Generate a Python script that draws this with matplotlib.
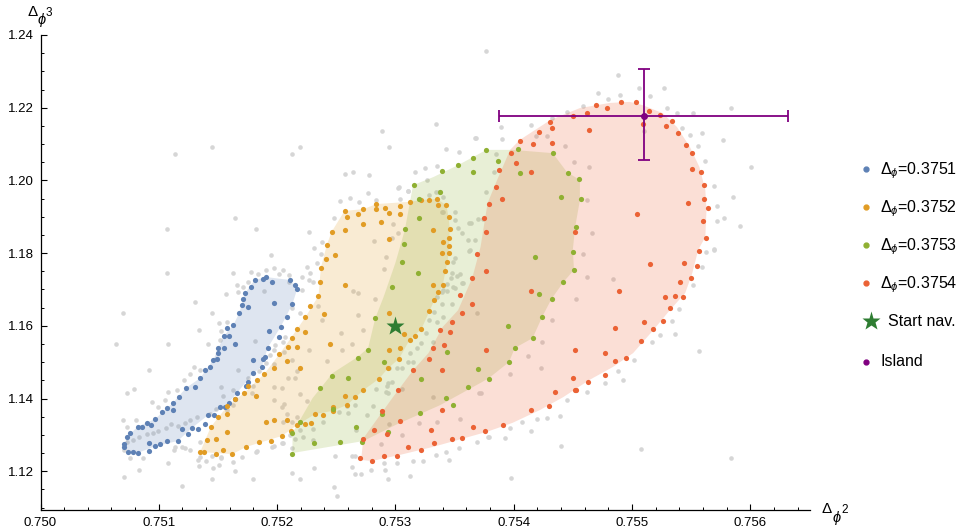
import numpy as np
import matplotlib
matplotlib.use("Agg")
import matplotlib.pyplot as plt
from matplotlib.lines import Line2D
from matplotlib.ticker import FixedLocator, FuncFormatter

plt.rcParams["font.family"] = ["Liberation Sans", "DejaVu Sans"]
plt.rcParams["mathtext.fontset"] = "custom"
plt.rcParams["mathtext.rm"] = "Liberation Sans"
plt.rcParams["mathtext.it"] = "Liberation Sans:italic"

# -----------------------------
# Navigator samples for each Delta_phi
# -----------------------------
blue_pts = [
    (0.75181, 1.1726), (0.75188, 1.1729), (0.75191, 1.1734), (0.75196, 1.1720), (0.75211, 1.1726),
    (0.75215, 1.1712), (0.75217, 1.1701), (0.75213, 1.1660), (0.75208, 1.1624), (0.75203, 1.1597),
    (0.75202, 1.1569), (0.75192, 1.1539), (0.75190, 1.1514), (0.75188, 1.1509), (0.75187, 1.1487),
    (0.75180, 1.1506), (0.75180, 1.1470), (0.75175, 1.1445), (0.75174, 1.1434), (0.75166, 1.1415),
    (0.75164, 1.1399), (0.75159, 1.1388), (0.75156, 1.1377), (0.75152, 1.1377), (0.75147, 1.1355),
    (0.75142, 1.1355), (0.75139, 1.1330), (0.75133, 1.1316), (0.75128, 1.1319), (0.75125, 1.1302),
    (0.75120, 1.1316), (0.75116, 1.1283), (0.75107, 1.1283), (0.75101, 1.1275), (0.75097, 1.1269),
    (0.75092, 1.1278), (0.75092, 1.1256), (0.75082, 1.1250), (0.75078, 1.1253), (0.75074, 1.1253),
    (0.75071, 1.1267), (0.75071, 1.1275), (0.75073, 1.1294), (0.75076, 1.1305), (0.75082, 1.1322),
    (0.75086, 1.1322), (0.75090, 1.1333), (0.75093, 1.1327), (0.75097, 1.1344), (0.75103, 1.1363),
    (0.75107, 1.1374), (0.75112, 1.1388), (0.75112, 1.1368), (0.75117, 1.1404), (0.75123, 1.1429),
    (0.75131, 1.1432), (0.75135, 1.1456), (0.75139, 1.1478), (0.75143, 1.1487), (0.75146, 1.1506),
    (0.75149, 1.1509), (0.75150, 1.1525), (0.75150, 1.1539), (0.75155, 1.1539), (0.75155, 1.1572),
    (0.75159, 1.1572), (0.75158, 1.1594), (0.75163, 1.1602), (0.75164, 1.1550), (0.75168, 1.1635),
    (0.75170, 1.1657), (0.75171, 1.1674), (0.75175, 1.1652), (0.75173, 1.1690), (0.75178, 1.1707),
    (0.75197, 1.1663), (0.75193, 1.1586),
]

orange_pts = [
    (0.75257, 1.1916), (0.75259, 1.1899), (0.75268, 1.1908), (0.75273, 1.1921), (0.75284, 1.1935),
    (0.75284, 1.1921), (0.75291, 1.1924), (0.75295, 1.1910), (0.75304, 1.1930), (0.75304, 1.1908),
    (0.75312, 1.1941), (0.75322, 1.1946), (0.75328, 1.1946), (0.75335, 1.1949), (0.75336, 1.1932),
    (0.75343, 1.1932), (0.75345, 1.1899), (0.75346, 1.1866), (0.75340, 1.1831), (0.75345, 1.1842),
    (0.75345, 1.1820), (0.75345, 1.1800), (0.75339, 1.1800), (0.75344, 1.1776), (0.75342, 1.1751),
    (0.75332, 1.1864), (0.75295, 1.1839), (0.75288, 1.1886), (0.75273, 1.1880), (0.75257, 1.1864),
    (0.75246, 1.1858), (0.75242, 1.1822), (0.75249, 1.1795), (0.75241, 1.1784), (0.75237, 1.1759),
    (0.75236, 1.1721), (0.75235, 1.1682), (0.75228, 1.1654), (0.75224, 1.1624), (0.75224, 1.1583),
    (0.75217, 1.1591), (0.75213, 1.1566), (0.75217, 1.1542), (0.75209, 1.1542), (0.75208, 1.1503),
    (0.75219, 1.1484), (0.75245, 1.1550), (0.75240, 1.1632), (0.75257, 1.1712), (0.75295, 1.1635),
    (0.75295, 1.1533), (0.75304, 1.1539), (0.75307, 1.1577), (0.75312, 1.1561), (0.75317, 1.1572),
    (0.75322, 1.1591), (0.75328, 1.1641), (0.75333, 1.1671), (0.75336, 1.1693), (0.75340, 1.1712),
    (0.75332, 1.1712), (0.75303, 1.1509), (0.75294, 1.1484), (0.75286, 1.1454), (0.75273, 1.1423),
    (0.75257, 1.1407), (0.75266, 1.1404), (0.75259, 1.1382), (0.75247, 1.1377), (0.75247, 1.1366),
    (0.75239, 1.1355), (0.75232, 1.1357), (0.75229, 1.1333), (0.75224, 1.1330), (0.75217, 1.1327),
    (0.75212, 1.1311), (0.75208, 1.1341), (0.75204, 1.1297), (0.75197, 1.1341), (0.75202, 1.1522),
    (0.75197, 1.1484), (0.75189, 1.1467), (0.75183, 1.1451), (0.75182, 1.1407), (0.75175, 1.1434),
    (0.75172, 1.1415), (0.75164, 1.1399), (0.75158, 1.1379), (0.75150, 1.1349), (0.75158, 1.1357),
    (0.75144, 1.1322), (0.75158, 1.1308), (0.75148, 1.1289), (0.75141, 1.1286), (0.75135, 1.1253),
    (0.75138, 1.1253), (0.75148, 1.1247), (0.75154, 1.1258), (0.75162, 1.1247), (0.75174, 1.1267),
    (0.75185, 1.1280), (0.75195, 1.1283), (0.75191, 1.1335),
]

green_pts = [
    (0.75316, 1.1987), (0.75338, 1.1968), (0.75320, 1.1949), (0.75320, 1.1897), (0.75308, 1.1866),
    (0.75307, 1.1825), (0.75306, 1.1776), (0.75319, 1.1745), (0.75297, 1.1707), (0.75283, 1.1621),
    (0.75277, 1.1533), (0.75268, 1.1511), (0.75246, 1.1462), (0.75260, 1.1456), (0.75236, 1.1429),
    (0.75290, 1.1500), (0.75322, 1.1454), (0.75344, 1.1528), (0.75339, 1.2026), (0.75353, 1.2042),
    (0.75366, 1.2062), (0.75366, 1.2023), (0.75377, 1.2084), (0.75387, 1.2053), (0.75404, 1.2086),
    (0.75405, 1.2020), (0.75433, 1.2075), (0.75446, 1.2020), (0.75455, 1.2004), (0.75440, 1.1954),
    (0.75457, 1.1949), (0.75453, 1.1872), (0.75450, 1.1803), (0.75451, 1.1754), (0.75418, 1.1789),
    (0.75442, 1.1720), (0.75421, 1.1687), (0.75432, 1.1674), (0.75424, 1.1624), (0.75395, 1.1599),
    (0.75416, 1.1566), (0.75401, 1.1539), (0.75396, 1.1500), (0.75379, 1.1454), (0.75370, 1.1481),
    (0.75361, 1.1432), (0.75343, 1.1401), (0.75247, 1.1371), (0.75213, 1.1305), (0.75219, 1.1335),
    (0.75213, 1.1247), (0.75231, 1.1278), (0.75253, 1.1280), (0.75267, 1.1322), (0.75272, 1.1280),
    (0.75289, 1.1357), (0.75294, 1.1308), (0.75321, 1.1360), (0.75349, 1.1382),
]

red_pts = [
    (0.75405, 1.2108), (0.75421, 1.2133), (0.75431, 1.2161), (0.75432, 1.2144), (0.75450, 1.2177),
    (0.75462, 1.2185), (0.75470, 1.2207), (0.75479, 1.2199), (0.75491, 1.2216), (0.75503, 1.2216),
    (0.75514, 1.2191), (0.75524, 1.2180), (0.75534, 1.2163), (0.75529, 1.2150), (0.75539, 1.2130),
    (0.75546, 1.2097), (0.75551, 1.2075), (0.75551, 1.2031), (0.75558, 1.2023), (0.75561, 1.1987),
    (0.75561, 1.1949), (0.75564, 1.1924), (0.75560, 1.1888), (0.75563, 1.1842), (0.75557, 1.1806),
    (0.75555, 1.1765), (0.75550, 1.1732), (0.75541, 1.1720), (0.75544, 1.1773), (0.75543, 1.1679),
    (0.75536, 1.1682), (0.75528, 1.1679), (0.75532, 1.1649), (0.75526, 1.1613), (0.75518, 1.1591),
    (0.75508, 1.1558), (0.75495, 1.1511), (0.75486, 1.1503), (0.75477, 1.1465), (0.75463, 1.1445),
    (0.75453, 1.1423), (0.75435, 1.1418), (0.75430, 1.1379), (0.75415, 1.1368), (0.75391, 1.1327),
    (0.75376, 1.1311), (0.75366, 1.1322), (0.75356, 1.1291), (0.75348, 1.1289), (0.75333, 1.1278),
    (0.75322, 1.1258), (0.75311, 1.1267), (0.75301, 1.1242), (0.75290, 1.1242), (0.75280, 1.1228),
    (0.75270, 1.1236), (0.75273, 1.1289), (0.75282, 1.1313), (0.75293, 1.1302), (0.75289, 1.1366),
    (0.75302, 1.1423), (0.75304, 1.1338), (0.75330, 1.1313), (0.75339, 1.1368), (0.75315, 1.1478),
    (0.75328, 1.1509), (0.75339, 1.1478), (0.75332, 1.1539), (0.75341, 1.1547), (0.75338, 1.1588),
    (0.75346, 1.1583), (0.75348, 1.1610), (0.75356, 1.1635), (0.75355, 1.1685), (0.75365, 1.1660),
    (0.75365, 1.1732), (0.75369, 1.1798), (0.75377, 1.1751), (0.75377, 1.1858), (0.75375, 1.1897),
    (0.75379, 1.1935), (0.75385, 1.1982), (0.75390, 1.1949), (0.75388, 1.2029), (0.75402, 1.2048),
    (0.75398, 1.2075), (0.75415, 1.2023), (0.75416, 1.2100), (0.75432, 1.2103), (0.75464, 1.2139),
    (0.75509, 1.2155), (0.75547, 1.1938), (0.75504, 1.1908), (0.75452, 1.1858), (0.75515, 1.1770),
    (0.75489, 1.1696), (0.75510, 1.1610), (0.75486, 1.1594), (0.75477, 1.1525), (0.75452, 1.1533),
    (0.75450, 1.1456), (0.75452, 1.1423), (0.75415, 1.1696), (0.75377, 1.1533),
]

# outlines of the allowed regions (concave hulls)
blue_hull = [
    (0.75071, 1.1267), (0.75073, 1.1294), (0.75082, 1.1322), (0.75097, 1.1344), (0.75112, 1.1388),
    (0.75123, 1.1429), (0.75135, 1.1456), (0.75146, 1.1506), (0.75155, 1.1572), (0.75163, 1.1602),
    (0.75168, 1.1635), (0.75173, 1.1690), (0.75181, 1.1726), (0.75191, 1.1734), (0.75211, 1.1726),
    (0.75217, 1.1701), (0.75213, 1.1660), (0.75203, 1.1597), (0.75192, 1.1539), (0.75187, 1.1487),
    (0.75180, 1.1470), (0.75166, 1.1415), (0.75156, 1.1377), (0.75142, 1.1355), (0.75128, 1.1319),
    (0.75116, 1.1283), (0.75097, 1.1269), (0.75082, 1.1250), (0.75074, 1.1253),
]

orange_hull = [
    (0.75257, 1.1916), (0.75273, 1.1921), (0.75284, 1.1935), (0.75312, 1.1941), (0.75322, 1.1946),
    (0.75335, 1.1949), (0.75343, 1.1932), (0.75345, 1.1899), (0.75346, 1.1866), (0.75345, 1.1800),
    (0.75344, 1.1776), (0.75340, 1.1712), (0.75333, 1.1671), (0.75322, 1.1591), (0.75312, 1.1561),
    (0.75303, 1.1509), (0.75294, 1.1484), (0.75286, 1.1454), (0.75273, 1.1423), (0.75259, 1.1382),
    (0.75247, 1.1366), (0.75232, 1.1357), (0.75217, 1.1327), (0.75204, 1.1297), (0.75174, 1.1267),
    (0.75162, 1.1247), (0.75135, 1.1253), (0.75144, 1.1322), (0.75158, 1.1379), (0.75172, 1.1415),
    (0.75189, 1.1467), (0.75202, 1.1522), (0.75217, 1.1591), (0.75224, 1.1624), (0.75235, 1.1682),
    (0.75237, 1.1759), (0.75242, 1.1822), (0.75246, 1.1858),
]

green_hull = [
    (0.75213, 1.1250), (0.75213, 1.1305), (0.75230, 1.1401), (0.75247, 1.1470), (0.75268, 1.1514),
    (0.75277, 1.1539), (0.75283, 1.1621), (0.75290, 1.1679), (0.75300, 1.1773), (0.75308, 1.1864),
    (0.75315, 1.1987), (0.75332, 1.2009), (0.75353, 1.2042), (0.75377, 1.2084), (0.75399, 1.2084),
    (0.75433, 1.2075), (0.75445, 1.2023), (0.75456, 1.2001), (0.75456, 1.1946), (0.75452, 1.1872),
    (0.75450, 1.1809), (0.75451, 1.1754), (0.75442, 1.1720), (0.75432, 1.1674), (0.75424, 1.1624),
    (0.75416, 1.1566), (0.75401, 1.1539), (0.75396, 1.1500), (0.75379, 1.1456), (0.75372, 1.1443),
    (0.75338, 1.1382), (0.75300, 1.1327), (0.75273, 1.1283),
]

red_hull = [
    (0.75271, 1.1231), (0.75273, 1.1291), (0.75298, 1.1404), (0.75315, 1.1478), (0.75328, 1.1525),
    (0.75340, 1.1597), (0.75353, 1.1643), (0.75365, 1.1732), (0.75372, 1.1817), (0.75376, 1.1899),
    (0.75378, 1.1938), (0.75386, 1.2001), (0.75397, 1.2084), (0.75405, 1.2111), (0.75431, 1.2166),
    (0.75456, 1.2199), (0.75481, 1.2213), (0.75498, 1.2216), (0.75509, 1.2207), (0.75526, 1.2185),
    (0.75538, 1.2147), (0.75549, 1.2092), (0.75557, 1.2037), (0.75562, 1.1974), (0.75563, 1.1919),
    (0.75562, 1.1844), (0.75556, 1.1809), (0.75551, 1.1745), (0.75545, 1.1690), (0.75532, 1.1643),
    (0.75518, 1.1588), (0.75501, 1.1525), (0.75484, 1.1487), (0.75464, 1.1451), (0.75442, 1.1404),
    (0.75422, 1.1368), (0.75399, 1.1333), (0.75377, 1.1308), (0.75332, 1.1267), (0.75304, 1.1245),
    (0.75280, 1.1228),
]

# rejected / excluded samples
gray_pts = [
    (0.75114, 1.2073), (0.75145, 1.2092), (0.75213, 1.2073), (0.75219, 1.2092), (0.75107, 1.1866),
    (0.75107, 1.1745), (0.75164, 1.1897), (0.75182, 1.1866), (0.75195, 1.1795), (0.75289, 1.2136),
    (0.75295, 1.2092), (0.75334, 1.2155), (0.75343, 1.2086), (0.75354, 1.2078), (0.75367, 1.2117),
    (0.75070, 1.1635), (0.75064, 1.1550), (0.75092, 1.1478), (0.75134, 1.1588), (0.75131, 1.1666),
    (0.75145, 1.1635), (0.75108, 1.1550), (0.75142, 1.1550), (0.75377, 1.2356), (0.75488, 1.2290),
    (0.75584, 1.2199), (0.75601, 1.2037), (0.75591, 1.1875), (0.75557, 1.1531), (0.75584, 1.1236),
    (0.75398, 1.1181), (0.75508, 1.1261), (0.75440, 1.1269),
    (0.75257, 1.2018), (0.75264, 1.2023), (0.75278, 1.2015), (0.75253, 1.1943), (0.75262, 1.1952),
    (0.75269, 1.1941), (0.75277, 1.1965), (0.75284, 1.1946), (0.75302, 1.1979), (0.75311, 1.1971),
    (0.75317, 1.2023), (0.75325, 1.2034), (0.75327, 1.2001), (0.75248, 1.1897), (0.75304, 1.1949),
    (0.75227, 1.1858), (0.75231, 1.1814), (0.75238, 1.1831), (0.75237, 1.1798), (0.75234, 1.1773),
    (0.75225, 1.1762), (0.75228, 1.1745), (0.75230, 1.1720), (0.75221, 1.1699), (0.75221, 1.1734),
    (0.75210, 1.1740), (0.75210, 1.1720), (0.75202, 1.1742), (0.75197, 1.1759), (0.75205, 1.1754),
    (0.75191, 1.1754), (0.75184, 1.1742), (0.75178, 1.1748), (0.75171, 1.1707), (0.75166, 1.1712),
    (0.75163, 1.1745), (0.75157, 1.1687), (0.75167, 1.1693), (0.75175, 1.1720), (0.75189, 1.1696),
    (0.75298, 1.1880), (0.75297, 1.1842), (0.75292, 1.1789), (0.75302, 1.1855), (0.75282, 1.1833),
    (0.75290, 1.1756), (0.75264, 1.1696), (0.75268, 1.1690), (0.75283, 1.1674), (0.75335, 1.2040),
    (0.75337, 1.1968), (0.75340, 1.1913), (0.75350, 1.1891), (0.75356, 1.1855), (0.75353, 1.1869),
    (0.75363, 1.1809), (0.75362, 1.1883), (0.75361, 1.1836), (0.75349, 1.1776), (0.75352, 1.1737),
    (0.75348, 1.1745), (0.75356, 1.1718), (0.75350, 1.1704), (0.75339, 1.1693), (0.75344, 1.1696),
    (0.75370, 1.1894), (0.75368, 1.2117), (0.75268, 1.1630), (0.75273, 1.1588), (0.75254, 1.1580),
    (0.75263, 1.1550), (0.75255, 1.1533), (0.75242, 1.1503), (0.75227, 1.1533), (0.75235, 1.1654),
    (0.75238, 1.1616), (0.75219, 1.1635), (0.75227, 1.1726),
    (0.75079, 1.1426), (0.75073, 1.1415), (0.75094, 1.1390), (0.75099, 1.1377), (0.75105, 1.1396),
    (0.75108, 1.1418), (0.75115, 1.1423), (0.75121, 1.1451), (0.75126, 1.1467), (0.75130, 1.1487),
    (0.75135, 1.1478), (0.75151, 1.1608), (0.75158, 1.1610), (0.75153, 1.1586), (0.75152, 1.1561),
    (0.75181, 1.1558), (0.75167, 1.1478), (0.75153, 1.1432), (0.75163, 1.1423), (0.75154, 1.1407),
    (0.75163, 1.1382), (0.75158, 1.1368), (0.75148, 1.1371), (0.75143, 1.1357), (0.75132, 1.1349),
    (0.75126, 1.1341), (0.75122, 1.1333), (0.75116, 1.1324), (0.75110, 1.1330), (0.75106, 1.1319),
    (0.75099, 1.1311), (0.75095, 1.1305), (0.75090, 1.1302), (0.75083, 1.1294), (0.75078, 1.1286),
    (0.75073, 1.1280), (0.75071, 1.1258), (0.75070, 1.1341), (0.75081, 1.1341), (0.75076, 1.1236),
    (0.75087, 1.1236), (0.75073, 1.1322),
    (0.75207, 1.1569), (0.75205, 1.1555), (0.75198, 1.1547), (0.75197, 1.1533), (0.75194, 1.1520),
    (0.75191, 1.1498), (0.75197, 1.1495), (0.75185, 1.1476), (0.75180, 1.1470), (0.75175, 1.1456),
    (0.75180, 1.1434), (0.75179, 1.1415), (0.75197, 1.1396), (0.75204, 1.1429), (0.75209, 1.1456),
    (0.75215, 1.1456), (0.75217, 1.1476), (0.75213, 1.1506), (0.75213, 1.1649), (0.75206, 1.1528),
    (0.75197, 1.1432), (0.75204, 1.1377), (0.75205, 1.1335), (0.75208, 1.1357), (0.75213, 1.1335),
    (0.75217, 1.1349), (0.75219, 1.1335), (0.75211, 1.1300), (0.75205, 1.1278), (0.75197, 1.1269),
    (0.75182, 1.1253), (0.75170, 1.1239), (0.75153, 1.1239), (0.75145, 1.1242), (0.75135, 1.1239),
    (0.75126, 1.1258), (0.75120, 1.1267), (0.75114, 1.1267), (0.75135, 1.1280),
    (0.75108, 1.1223), (0.75083, 1.1203), (0.75071, 1.1184), (0.75120, 1.1159), (0.75113, 1.1258),
    (0.75122, 1.1264), (0.75133, 1.1231), (0.75140, 1.1228), (0.75134, 1.1215), (0.75146, 1.1209),
    (0.75151, 1.1217), (0.75153, 1.1236), (0.75163, 1.1226), (0.75164, 1.1201), (0.75145, 1.1179),
    (0.75180, 1.1179), (0.75183, 1.1256), (0.75196, 1.1267), (0.75204, 1.1278), (0.75213, 1.1264),
    (0.75213, 1.1195), (0.75219, 1.1179), (0.75231, 1.1209), (0.75249, 1.1242), (0.75248, 1.1157),
    (0.75251, 1.1132), (0.75263, 1.1242), (0.75266, 1.1242), (0.75263, 1.1212), (0.75266, 1.1192),
    (0.75271, 1.1192), (0.75279, 1.1203), (0.75290, 1.1223), (0.75291, 1.1203), (0.75294, 1.1179),
    (0.75301, 1.1223), (0.75312, 1.1187), (0.75315, 1.1228), (0.75323, 1.1228), (0.75334, 1.1245),
    (0.75343, 1.1253), (0.75345, 1.1231), (0.75354, 1.1264), (0.75369, 1.1280), (0.75378, 1.1294),
    (0.75371, 1.1415), (0.75355, 1.1344), (0.75335, 1.1335), (0.75320, 1.1333), (0.75306, 1.1300),
    (0.75295, 1.1330), (0.75288, 1.1275), (0.75284, 1.1426), (0.75281, 1.1379), (0.75276, 1.1355),
    (0.75267, 1.1313), (0.75260, 1.1360), (0.75252, 1.1363), (0.75239, 1.1335), (0.75230, 1.1316),
    (0.75230, 1.1286), (0.75222, 1.1294), (0.75219, 1.1313), (0.75215, 1.1289), (0.75206, 1.1385),
    (0.75219, 1.1412), (0.75225, 1.1393), (0.75266, 1.1382), (0.75259, 1.1379), (0.75293, 1.1434),
    (0.75294, 1.1415), (0.75306, 1.1426), (0.75332, 1.1404), (0.75303, 1.1982), (0.75311, 1.1971),
    (0.75328, 1.1960), (0.75334, 1.1968), (0.75340, 1.1954), (0.75339, 1.1913), (0.75350, 1.1913),
    (0.75377, 1.1968), (0.75374, 1.1894), (0.75364, 1.1883), (0.75367, 1.1836), (0.75362, 1.1806),
    (0.75350, 1.1787), (0.75355, 1.1742), (0.75357, 1.1718), (0.75347, 1.1732), (0.75344, 1.1715),
    (0.75349, 1.1707), (0.75340, 1.1699), (0.75335, 1.1679), (0.75339, 1.1660), (0.75348, 1.1660),
    (0.75340, 1.1624), (0.75333, 1.1638), (0.75328, 1.1616), (0.75335, 1.1610), (0.75326, 1.1580),
    (0.75322, 1.1553), (0.75332, 1.1555), (0.75318, 1.1539), (0.75312, 1.1525), (0.75315, 1.1500),
    (0.75306, 1.1484), (0.75311, 1.1500), (0.75301, 1.1484), (0.75295, 1.1484), (0.75294, 1.1443),
    (0.75297, 1.1445), (0.75292, 1.1418), (0.75369, 1.1635),
    (0.75459, 1.1798), (0.75462, 1.1734), (0.75484, 1.1729), (0.75453, 1.1674), (0.75432, 1.1616),
    (0.75424, 1.1555), (0.75412, 1.1517), (0.75423, 1.1484), (0.75397, 1.1467), (0.75372, 1.1415),
    (0.75563, 1.1803), (0.75569, 1.1809), (0.75559, 1.1762), (0.75552, 1.1712), (0.75540, 1.1646),
    (0.75534, 1.1613), (0.75536, 1.1577), (0.75524, 1.1575), (0.75517, 1.1555), (0.75502, 1.1506),
    (0.75488, 1.1476), (0.75492, 1.1451), (0.75477, 1.1443), (0.75462, 1.1418), (0.75445, 1.1396),
    (0.75439, 1.1352), (0.75428, 1.1347), (0.75420, 1.1344), (0.75407, 1.1335), (0.75415, 1.1311),
    (0.75397, 1.1319), (0.75393, 1.1291), (0.75379, 1.1294), (0.75506, 1.2254), (0.75527, 1.2254),
    (0.75515, 1.2232), (0.75471, 1.2240), (0.75480, 1.2224), (0.75490, 1.2235), (0.75459, 1.2205),
    (0.75445, 1.2188), (0.75530, 1.2199), (0.75538, 1.2185), (0.75552, 1.2185), (0.75432, 1.2172),
    (0.75415, 1.2152), (0.75389, 1.2147), (0.75390, 1.2114), (0.75419, 1.2122), (0.75428, 1.2122),
    (0.75443, 1.2095), (0.75542, 1.2144), (0.75549, 1.2125), (0.75559, 1.2130), (0.75556, 1.2095),
    (0.75577, 1.2111), (0.75562, 1.2053), (0.75569, 1.1985), (0.75585, 1.1954), (0.75572, 1.1930),
    (0.75578, 1.1897), (0.75572, 1.1888), (0.75569, 1.1811), (0.75451, 1.2051), (0.75464, 1.2037),
    (0.75462, 1.1946), (0.75466, 1.1855), (0.75510, 1.2136), (0.75385, 1.2073), (0.75383, 1.2023),
]

labels = ["0.3751", "0.3752", "0.3753", "0.3754"]
colors = ["#5E81B5", "#E19C24", "#8FB032", "#EB6235"]

start_nav = (0.7530, 1.1600)
island_center = (0.75510, 1.2177)
island_xerr = (0.00122, 0.00122)
island_yerr = (0.0122, 0.0130)

x_major = [0.750, 0.751, 0.752, 0.753, 0.754, 0.755, 0.756]
y_major = [1.12, 1.14, 1.16, 1.18, 1.20, 1.22, 1.24]

STAR = "#2E7D32"
PURPLE = "#800080"

# -----------------------------
# Plot
# -----------------------------
W, H = 974, 530
fig = plt.figure(figsize=(W / 100, H / 100), dpi=100)
ax = fig.add_axes([40.5 / W, 20 / H, (810 - 40.5) / W, (510 - 35) / H])

gray = np.array(gray_pts)
ax.scatter(gray[:, 0], gray[:, 1], s=11, color="#d6d6d6", linewidths=0, zorder=1)

hulls = [blue_hull, orange_hull, green_hull, red_hull]
for hull, c in zip(hulls, colors):
    h = np.array(hull)
    ax.fill(h[:, 0], h[:, 1], color=c, alpha=0.2, linewidth=0, zorder=2)

series = [blue_pts, orange_pts, green_pts, red_pts]
for pts, c in zip(series, colors):
    p = np.array(pts)
    ax.scatter(p[:, 0], p[:, 1], s=14, color=c, linewidths=0, zorder=3)

ax.plot(*start_nav, marker="*", ms=14, color=STAR, mec="none", zorder=5)

ax.errorbar(island_center[0], island_center[1],
            xerr=[[island_xerr[0]], [island_xerr[1]]],
            yerr=[[island_yerr[0]], [island_yerr[1]]],
            fmt="o", ms=4, color=PURPLE, ecolor=PURPLE,
            elinewidth=1.3, capsize=4, capthick=1.3, zorder=6)

# axes look: only left/bottom lines, inward ticks
ax.set_xlim(0.750, 0.756505)
ax.set_ylim(1.10933, 1.240)
for side in ["top", "right"]:
    ax.spines[side].set_visible(False)
for side in ["left", "bottom"]:
    ax.spines[side].set_linewidth(0.9)

ax.xaxis.set_major_locator(FixedLocator(x_major))
ax.xaxis.set_minor_locator(FixedLocator(np.arange(0.7502, 0.75650, 0.0002)))
ax.yaxis.set_major_locator(FixedLocator(y_major))
ax.yaxis.set_minor_locator(FixedLocator(np.arange(1.110, 1.2401, 0.005)))
ax.xaxis.set_major_formatter(FuncFormatter(lambda v, p: "%.3f" % v))
ax.yaxis.set_major_formatter(FuncFormatter(lambda v, p: "%.2f" % v))
ax.tick_params(which="major", direction="in", length=4.5, width=0.8, labelsize=9.5, pad=5)
ax.tick_params(which="minor", direction="in", length=2.5, width=0.7)


def fy(py):
    return 1 - py / H


# axis labels: Delta with phi subscript and power superscript
fig.text(27 / W, fy(12), "\u0394", fontsize=11, ha="left", va="center")
fig.text(37 / W, fy(20), r"$\phi$", fontsize=10.5, ha="left", va="center")
fig.text(46 / W, fy(13), "3", fontsize=8.5, ha="left", va="center")

fig.text(822 / W, fy(509), "\u0394", fontsize=11, ha="left", va="center")
fig.text(832 / W, fy(518), r"$\phi$", fontsize=10.5, ha="left", va="center")
fig.text(841 / W, fy(510), "2", fontsize=8.5, ha="left", va="center")

# legend column on the right
rows = [171, 209, 247, 285, 321, 362]
for c, l, py in zip(colors, labels, rows[:4]):
    fig.lines.append(Line2D([866 / W], [fy(py - 2)], ls="", marker="o", ms=3.5,
                            color=c, transform=fig.transFigure))
    fig.text(880 / W, fy(py), r"$\Delta_{\phi}$=" + l, fontsize=11.5, ha="left", va="center")

fig.lines.append(Line2D([871 / W], [fy(rows[4])], ls="", marker="*", ms=14, color=STAR,
                        mec="none", transform=fig.transFigure))
fig.text(888 / W, fy(rows[4]), "Start nav.", fontsize=11.5, ha="left", va="center")
fig.lines.append(Line2D([866 / W], [fy(rows[5])], ls="", marker="o", ms=3.5, color=PURPLE,
                        transform=fig.transFigure))
fig.text(880 / W, fy(rows[5]), "Island", fontsize=11.5, ha="left", va="center")

fig.savefig("out.png", dpi=100)
